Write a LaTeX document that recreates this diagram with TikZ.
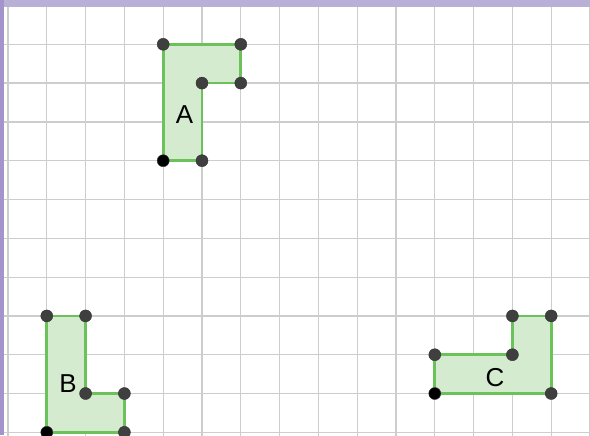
\documentclass[tikz,border=0pt]{standalone}
\usepackage{fontspec}
\setmainfont{Liberation Sans}
\usepackage{tikz}
\usetikzlibrary{positioning}
\definecolor{bandtop}{HTML}{B9AFD7}
\definecolor{bandleft}{HTML}{A394CC}
\definecolor{gridgray}{HTML}{CDCDCD}
\definecolor{edgegreen}{HTML}{6BC25A}
\definecolor{fillgreen}{HTML}{D5EBD0}
\definecolor{dotgray}{HTML}{3F3F3F}
\begin{document}
\begin{tikzpicture}
  \def\ECOL{edgegreen}
  \def\FCOL{fillgreen}
  \tikzstyle{grd} = [draw=gridgray, line width=0.9pt]
  \tikzstyle{shp} = [draw=\ECOL, fill=\FCOL, line width=2pt, line join=miter]
  \tikzstyle{pt} = [circle, fill=dotgray, draw=black!80, line width=0.3pt, minimum size=0.31cm, inner sep=0pt]
  \tikzstyle{pto} = [pt, fill=black]
  \tikzstyle{lbl} = [font=\fontsize{19}{22}\selectfont, inner sep=0pt]
  \useasboundingbox (-0.206,0.142) rectangle (15.0,-11.07);
  \fill[white] (-0.206,0.142) rectangle (15.0,-11.07);

  % grid
  \draw[grd] (-0.5,0.5) grid (15.5,-11.5);

  % shape A
  \coordinate (A1) at (4,-4);
  \coordinate (A2) at (4,-1);
  \coordinate (A3) at (6,-1);
  \coordinate (A4) at (6,-2);
  \coordinate (A5) at (5,-2);
  \coordinate (A6) at (5,-4);
  \draw[shp] (A1) -- (A2) -- (A3) -- (A4) -- (A5) -- (A6) -- cycle;

  % shape B
  \coordinate (B1) at (1,-11);
  \coordinate (B2) at (1,-8);
  \coordinate (B3) at (2,-8);
  \coordinate (B4) at (2,-10);
  \coordinate (B5) at (3,-10);
  \coordinate (B6) at (3,-11);
  \draw[shp] (B1) -- (B2) -- (B3) -- (B4) -- (B5) -- (B6) -- cycle;

  % shape C
  \coordinate (C1) at (11,-10);
  \coordinate (C2) at (11,-9);
  \coordinate (C3) at (13,-9);
  \coordinate (C4) at (13,-8);
  \coordinate (C5) at (14,-8);
  \coordinate (C6) at (14,-10);
  \draw[shp] (C1) -- (C2) -- (C3) -- (C4) -- (C5) -- (C6) -- cycle;

  % vertices
  \node[pto] (PA1) at (A1) {};
  \node[pt] (PA2) at (A2) {};
  \node[pt] (PA3) at (A3) {};
  \node[pt] (PA4) at (A4) {};
  \node[pt] (PA5) at (A5) {};
  \node[pt] (PA6) at (A6) {};

  \node[pto] (PB1) at (B1) {};
  \node[pt] (PB2) at (B2) {};
  \node[pt] (PB3) at (B3) {};
  \node[pt] (PB4) at (B4) {};
  \node[pt] (PB5) at (B5) {};
  \node[pt] (PB6) at (B6) {};

  \node[pto] (PC1) at (C1) {};
  \node[pt] (PC2) at (C2) {};
  \node[pt] (PC3) at (C3) {};
  \node[pt] (PC4) at (C4) {};
  \node[pt] (PC5) at (C5) {};
  \node[pt] (PC6) at (C6) {};

  % labels
  \node[lbl] (LA) at (4.55,-2.82) {A};
  \node[lbl] (LB) at (1.55,-9.75) {B};
  \node[lbl] (LC) at (12.55,-9.58) {C};

  % frame bands
  \fill[bandtop] (-0.206,0.142) rectangle (15.0,-0.04);
  \fill[bandleft] (-0.206,0.142) rectangle (-0.11,-11.07);
\end{tikzpicture}
\end{document}
